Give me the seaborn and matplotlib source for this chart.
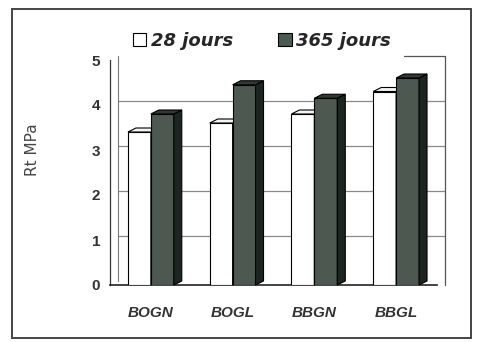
import matplotlib
matplotlib.use("Agg")
import matplotlib.pyplot as plt
from matplotlib.patches import Polygon, Rectangle, Patch
import seaborn as sns
import pandas as pd

# Tensile strength Rt (MPa) per concrete mix, at two ages
mixes = ["BOGN", "BOGL", "BBGN", "BBGL"]
rt_28 = [3.4, 3.6, 3.8, 4.3]
rt_365 = [3.8, 4.45, 4.15, 4.6]
ages = ["28 jours", "365 jours"]
y_ticks = [0, 1, 2, 3, 4, 5]

df = pd.DataFrame({
    "mix": mixes * 2,
    "age": [ages[0]] * len(mixes) + [ages[1]] * len(mixes),
    "rt": rt_28 + rt_365,
})

front = {ages[0]: "#ffffff", ages[1]: "#4b5a50"}
side = {ages[0]: "#e6e6e6", ages[1]: "#1c2520"}
top = {ages[0]: "#f4f4f4", ages[1]: "#2f3a33"}

sns.set_style("white")
plt.rcParams["font.family"] = ["Liberation Sans", "DejaVu Sans"]

W, H = 478, 342
fig = plt.figure(figsize=(W / 100, H / 100), dpi=100)
ax = fig.add_axes([110 / W, 57 / H, 327 / W, 225 / H])

sns.barplot(data=df, x="mix", y="rt", hue="age", order=mixes, hue_order=ages,
            palette=front, width=0.56, edgecolor="black", linewidth=0.8,
            legend=False, ax=ax, zorder=3)
ax.set_xlim(-0.5, 3.5)
ax.set_ylim(0, 5)

# depth of the 3-D effect, in pixels converted to data units
DX_PX, DY_PX = 8, 4
dx = DX_PX * 4.0 / ax.bbox.width
dy = DY_PX * 5.0 / ax.bbox.height

# back wall gridlines and edges
for v in y_ticks[1:-1]:
    ax.plot([-0.5 + dx, 3.5 + dx], [v + dy, v + dy], color="#8a8a8a", lw=0.9,
            zorder=1, clip_on=False)
ax.plot([3.5 + dx, 3.5 + dx], [0, 5 + dy], color="#555555", lw=0.9, zorder=1, clip_on=False)
ax.plot([3.1, 3.5 + dx], [5 + dy, 5 + dy], color="#555555", lw=0.9, zorder=1, clip_on=False)
ax.plot([-0.5 + dx, -0.5 + dx], [dy, 5 + dy], color="#777777", lw=0.8, zorder=1, clip_on=False)

# extrude every bar: right side face and top face; later series sit in front
for i, (cont, age) in enumerate(zip(ax.containers, ages)):
    for bar in cont:
        x0 = bar.get_x()
        x1 = x0 + bar.get_width()
        h = bar.get_height()
        z = 3 + i
        bar.set_zorder(z)
        ax.add_patch(Polygon([(x1, 0), (x1, h), (x1 + dx, h + dy), (x1 + dx, dy)],
                             closed=True, facecolor=side[age], edgecolor="black",
                             lw=0.8, zorder=z, clip_on=False))
        ax.add_patch(Polygon([(x0, h), (x1, h), (x1 + dx, h + dy), (x0 + dx, h + dy)],
                             closed=True, facecolor=top[age], edgecolor="black",
                             lw=0.8, zorder=z, clip_on=False))

for s in ["top", "right"]:
    ax.spines[s].set_visible(False)
ax.spines["left"].set_color("#333333")
ax.spines["bottom"].set_color("#222222")
ax.spines["left"].set_linewidth(0.9)
ax.spines["bottom"].set_linewidth(1.2)

ax.set_yticks(y_ticks)
ax.set_yticklabels([str(t) for t in y_ticks], fontsize=11, fontweight="bold", color="#333333")
ax.set_xticks([-0.5, 0.5, 1.5, 2.5, 3.5], minor=True)
ax.set_xticks(range(len(mixes)))
ax.set_xticklabels(mixes, fontsize=11, fontweight="bold", style="italic", color="#333333")
ax.tick_params(axis="x", which="major", length=0, pad=15)
ax.tick_params(axis="x", which="minor", length=4, color="#333333", direction="out")
ax.tick_params(axis="y", length=4, color="#333333", direction="out", pad=3)
ax.set_xlabel("")
ax.set_ylabel("Rt MPa", fontsize=11, color="#444444", family="DejaVu Sans")
ax.yaxis.set_label_coords(-0.214, 0.6)

handles = [Patch(facecolor=front[a], edgecolor="black", lw=0.8) for a in ages]
fig.legend(handles, ages, loc="center", bbox_to_anchor=(262 / W, 1 - 41 / H), ncol=2,
           frameon=False, handlelength=0.75, handleheight=0.75, handletextpad=0.25,
           columnspacing=2.5,
           prop={"family": "DejaVu Sans", "size": 13, "weight": "bold", "style": "italic"})

# outer frame
fig.patches.append(Rectangle((12 / W, 1 - 338 / H), 459 / W, 329 / H, transform=fig.transFigure,
                             fill=False, edgecolor="#444444", lw=1.4))

fig.savefig("out.png", dpi=100, facecolor="white")
